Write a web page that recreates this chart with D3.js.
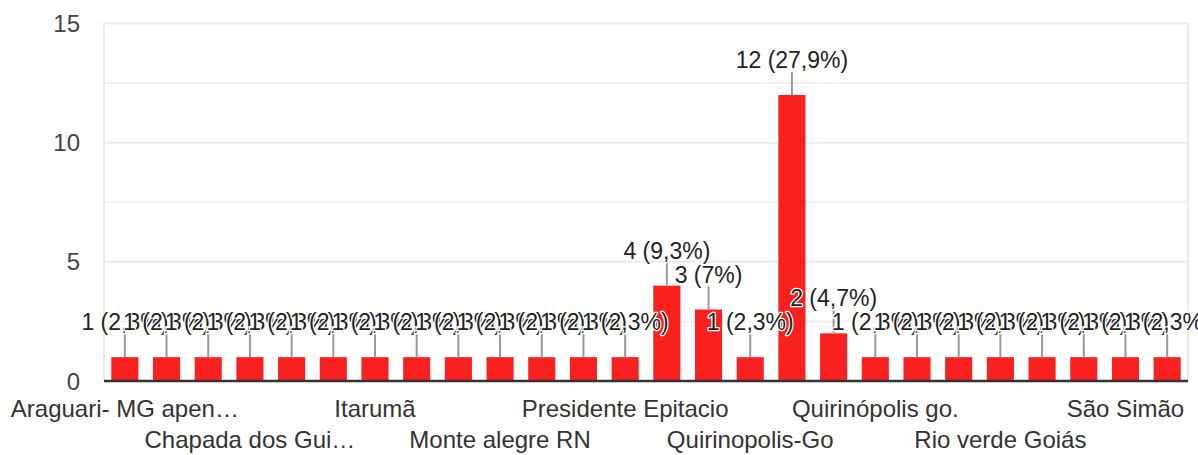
<!DOCTYPE html>
<html>
<head>
<meta charset="utf-8">
<script src="https://cdn.jsdelivr.net/npm/d3@7"></script>
<style>
  html, body { margin: 0; padding: 0; background: #fff; }
  svg { display: block; font-family: "Liberation Sans", Arial, sans-serif; }
</style>
</head>
<body>
<svg id="chart" width="1198" height="455"></svg>
<script>
// ---- data ----
const categories = [
  "Araguari- MG apenas estágio", "Aragarças", "Cachoeira Alta", "Chapada dos Guimarães",
  "Goiânia", "Itajá", "Itarumã", "Jataí", "Lagoa Santa", "Monte alegre RN",
  "Paranaiguara", "Porto Velho", "Presidente Epitacio", "Quirinopolis", "Quirinopolis GO",
  "Quirinopolis-Go", "Quirinópolis", "Quirinópolis - GO", "Quirinópolis go.", "Quirinópolis-GO",
  "Rio Verde", "Rio verde Goiás", "Santa Helena de Goiás", "São Paulo", "São Simão", "Uberlândia"
];
const values = [1,1,1,1,1,1,1,1,1,1,1,1,1,4,3,1,12,2,1,1,1,1,1,1,1,1];
const yTicks = [0, 5, 10, 15];
const yGrid = [0, 2.5, 5, 7.5, 10, 12.5, 15];

// ---- layout ----
const m = { left: 104, right: 1188, top: 23.5, bottom: 381 };
const svg = d3.select("#chart");
const total = d3.sum(values);

const x = d3.scaleBand().domain(d3.range(categories.length))
  .range([m.left, m.right]).paddingInner(0.35).paddingOuter(0.175);
const y = d3.scaleLinear().domain([0, 15]).range([m.bottom, m.top]);

// gridlines
svg.append("g").selectAll("line").data(yGrid.filter(d => d > 0)).join("line")
  .attr("x1", m.left).attr("x2", m.right)
  .attr("y1", d => y(d)).attr("y2", d => y(d))
  .attr("stroke", d => d % 5 === 0 ? "#ebebeb" : "#f1f1f1").attr("stroke-width", 2);
// side borders
svg.append("g").selectAll("line").data([m.left, m.right]).join("line")
  .attr("x1", d => d).attr("x2", d => d).attr("y1", m.top - 1).attr("y2", m.bottom)
  .attr("stroke", "#ebebeb").attr("stroke-width", 2);

// y tick labels
svg.append("g").selectAll("text").data(yTicks).join("text")
  .attr("x", 80).attr("y", d => y(d)).attr("dy", "0.36em")
  .attr("text-anchor", "end").attr("font-size", 24).attr("fill", "#444")
  .text(d => d);

// bars
svg.append("g").selectAll("rect").data(values).join("rect")
  .attr("x", (d, i) => x(i)).attr("width", x.bandwidth())
  .attr("y", d => y(d)).attr("height", d => y(0) - y(d))
  .attr("fill", "#f92020");

// baseline
svg.append("line").attr("x1", m.left).attr("x2", m.right)
  .attr("y1", y(0)).attr("y2", y(0)).attr("stroke", "#333").attr("stroke-width", 2.5);

// leader lines
const cx = i => x(i) + x.bandwidth() / 2;
svg.append("g").selectAll("line").data(values).join("line")
  .attr("x1", (d, i) => cx(i)).attr("x2", (d, i) => cx(i))
  .attr("y1", d => y(d)).attr("y2", d => y(d) - 23)
  .attr("stroke", "#999").attr("stroke-width", 2);

// data labels
const fmtPct = v => {
  const p = Math.round(v / total * 1000) / 10;
  return (Number.isInteger(p) ? p.toFixed(0) : p.toFixed(1)).replace(".", ",");
};
const lab = svg.append("g");
values.forEach((v, i) => {
  lab.append("text")
    .attr("x", cx(i)).attr("y", y(v) - 27)
    .attr("text-anchor", "middle").attr("font-size", 23).attr("fill", "#222")
    .attr("stroke", "#fff").attr("stroke-width", 2.5).attr("stroke-linejoin", "round")
    .attr("paint-order", "stroke")
    .text(`${v} (${fmtPct(v)}%)`);
});

// x tick labels (every 3rd, alternating rows)
const xl = svg.append("g");
categories.forEach((c, i) => {
  if (i % 3 !== 0) return;
  const row = (i / 3) % 2;
  const t = xl.append("text")
    .attr("x", cx(i)).attr("y", row === 0 ? 417 : 448)
    .attr("text-anchor", "middle").attr("font-size", 24).attr("fill", "#333")
    .text(c);
  const maxW = 229;
  if (t.node().getComputedTextLength() > maxW) {
    let s = c;
    while (s.length > 1) {
      s = s.slice(0, -1);
      t.text(s.trimEnd() + "…");
      if (t.node().getComputedTextLength() <= maxW) break;
    }
  }
});
</script>
</body>
</html>
